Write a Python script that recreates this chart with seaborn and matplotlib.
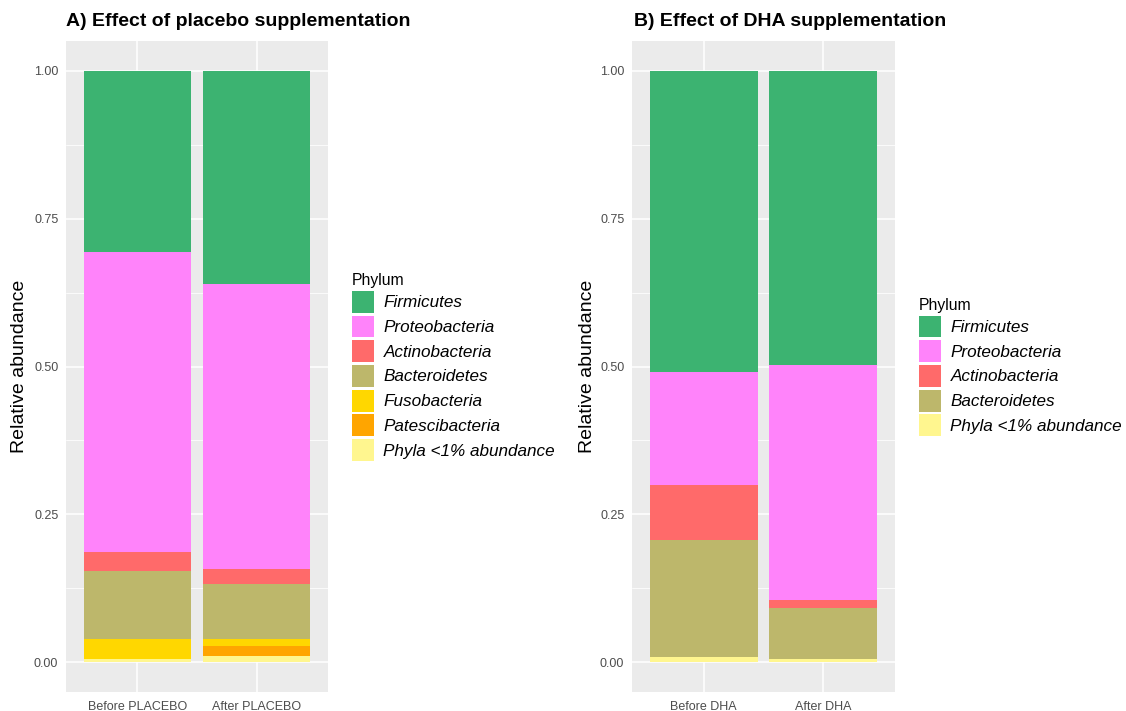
import matplotlib
matplotlib.use("Agg")
import matplotlib.pyplot as plt
import seaborn as sns
import pandas as pd
import numpy as np
from matplotlib.patches import Patch
from matplotlib.ticker import FixedLocator

# ---------------- data ----------------
samples_a = ["Before PLACEBO", "After PLACEBO"]
phyla_a = ["Firmicutes", "Proteobacteria", "Actinobacteria", "Bacteroidetes",
           "Fusobacteria", "Patescibacteria", "Phyla <1% abundance"]
firmicutes_a = [0.307, 0.360]
proteobacteria_a = [0.507, 0.483]
actinobacteria_a = [0.032, 0.025]
bacteroidetes_a = [0.115, 0.093]
fusobacteria_a = [0.034, 0.011]
patescibacteria_a = [0.000, 0.018]
low_a = [0.005, 0.010]

samples_b = ["Before DHA", "After DHA"]
phyla_b = ["Firmicutes", "Proteobacteria", "Actinobacteria", "Bacteroidetes",
           "Phyla <1% abundance"]
firmicutes_b = [0.510, 0.498]
proteobacteria_b = [0.190, 0.396]
actinobacteria_b = [0.094, 0.014]
bacteroidetes_b = [0.197, 0.086]
low_b = [0.009, 0.006]

colors = {
    "Firmicutes": "#3CB371",
    "Proteobacteria": "#FF83FA",
    "Actinobacteria": "#FF6A6A",
    "Bacteroidetes": "#BDB76B",
    "Fusobacteria": "#FFD700",
    "Patescibacteria": "#FFA500",
    "Phyla <1% abundance": "#FFF68F",
}

values_a = [firmicutes_a, proteobacteria_a, actinobacteria_a, bacteroidetes_a,
            fusobacteria_a, patescibacteria_a, low_a]
values_b = [firmicutes_b, proteobacteria_b, actinobacteria_b, bacteroidetes_b, low_b]

# ---------------- style ----------------
sns.set_theme(style="darkgrid")
plt.rcParams['font.family'] = ['Liberation Sans', 'DejaVu Sans']

W, H = 1126, 711
fig = plt.figure(figsize=(W / 100, H / 100), dpi=100)


def px_axes(left, right, top, bottom):
    return fig.add_axes([left / W, 1 - bottom / H, (right - left) / W, (bottom - top) / H])


def draw_panel(ax, samples, phyla, values, title, title_x, ylab_x, legend_x):
    long = []
    for ph, vals in zip(phyla, values):
        for s, v in zip(samples, vals):
            long.append({"Sample": s, "Phylum": ph, "Abundance": v})
    df = pd.DataFrame(long)
    # stack: first phylum on top, last at the bottom
    bottom_up = list(reversed(phyla))
    df["rank"] = df["Phylum"].map({p: i for i, p in enumerate(bottom_up)})
    df = df.sort_values(["Sample", "rank"])
    df["Top"] = df.groupby("Sample")["Abundance"].cumsum()
    # draw from the top layer downward so lower layers overlay
    for ph in phyla:
        sub = df[df["Phylum"] == ph]
        sns.barplot(data=sub, x="Sample", y="Top", order=samples, color=colors[ph],
                    saturation=1, width=0.9, linewidth=0, errorbar=None, ax=ax)

    ax.set_facecolor("#EBEBEB")
    for sp in ax.spines.values():
        sp.set_visible(False)
    ax.set_xlim(-0.6, 1.6)
    ax.set_ylim(-0.05, 1.05)
    ax.set_yticks([0, 0.25, 0.5, 0.75, 1.0])
    ax.set_yticklabels(["0.00", "0.25", "0.50", "0.75", "1.00"])
    ax.yaxis.set_minor_locator(FixedLocator([0.125, 0.375, 0.625, 0.875]))
    ax.set_axisbelow(True)
    ax.grid(which="major", axis="both", color="white", linewidth=1.1)
    ax.grid(which="minor", axis="y", color="white", linewidth=0.55)
    ax.xaxis.grid(True, which="major", color="white", linewidth=1.1)
    ax.tick_params(axis="both", which="major", length=3, width=0.8, color="#333333",
                   labelcolor="#4D4D4D", labelsize=9, pad=2.5)
    ax.tick_params(axis="x", which="major", pad=3.5)
    ax.tick_params(axis="both", which="minor", length=0)
    ax.set_xlabel("")
    ax.set_ylabel("")

    fig.text(title_x / W, 1 - 22 / H, title, fontsize=14, fontweight="bold",
             ha="left", va="center", color="black")
    fig.text(ylab_x / W, 1 - 366 / H, "Relative abundance", rotation=90,
             fontsize=14, ha="center", va="center", color="black")

    handles = [Patch(facecolor=colors[p], edgecolor="none", label=p) for p in phyla]
    leg = ax.legend(handles=handles, title="Phylum", loc="center left",
                    bbox_to_anchor=(legend_x / W, 1 - 367 / H),
                    bbox_transform=fig.transFigure, frameon=False,
                    fontsize=12.3, title_fontsize=11.3, borderpad=0, borderaxespad=0,
                    handlelength=1.29, handleheight=1.6, handletextpad=0.55,
                    labelspacing=0.16, alignment="left")
    for t in leg.get_texts():
        t.set_fontstyle("italic")
        t.set_color("black")
    leg.get_title().set_color("black")


ax_a = px_axes(66, 328, 41, 692)
ax_b = px_axes(632, 895, 41, 692)

draw_panel(ax_a, samples_a, phyla_a, values_a, "A) Effect of placebo supplementation",
           66, 20, 352)
draw_panel(ax_b, samples_b, phyla_b, values_b, "B) Effect of DHA supplementation",
           634, 587, 919)

fig.savefig("out.png", dpi=100, facecolor="white")
